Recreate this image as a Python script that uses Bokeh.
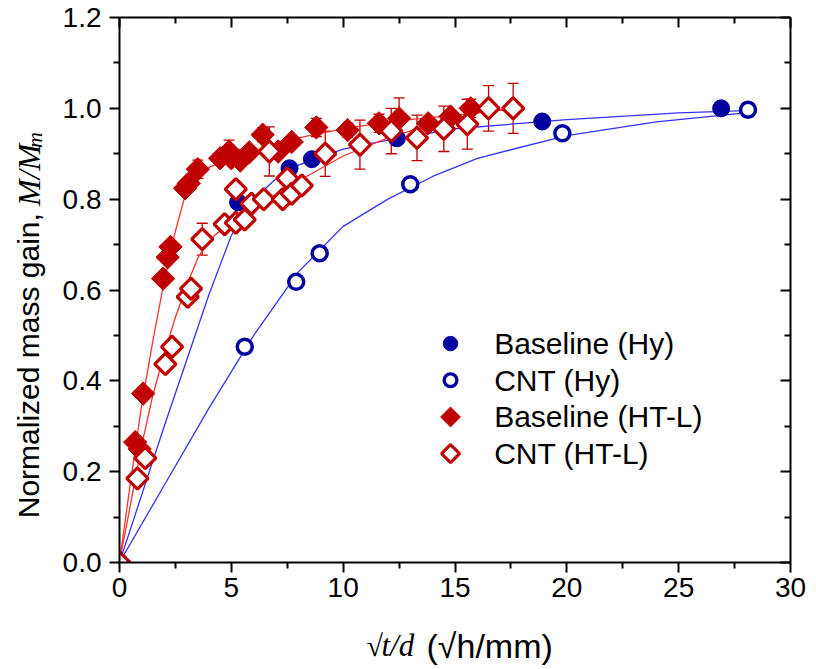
import numpy as np
from bokeh.plotting import figure
from bokeh.layouts import row, column
from bokeh.models import (Range1d, LinearAxis, Whisker, ColumnDataSource,
                          FixedTicker, TeeHead, PrintfTickFormatter, CustomLabelingPolicy)
from bokeh.core.properties import value
from bokeh.embed import file_html
from bokeh.resources import INLINE

# ---------------- data ----------------
base_hy_x = [0.0, 5.3, 7.6, 8.6, 12.4, 18.9, 26.9]
base_hy_y = [0.0, 0.793, 0.868, 0.888, 0.934, 0.971, 1.0]
base_hy_err = [0.0, 0.0, 0.0, 0.0, 0.0, 0.0, 0.008]

cnt_hy_x = [0.0, 5.6, 7.9, 8.95, 13.0, 19.8, 28.1]
cnt_hy_y = [0.0, 0.475, 0.618, 0.681, 0.833, 0.945, 0.997]
cnt_hy_err = [0.0, 0.0, 0.0, 0.0, 0.0, 0.008, 0.015]

base_ht_x = [0.0, 0.7, 0.9, 1.06, 1.95, 2.15, 2.28, 2.93, 3.1, 3.5, 4.5, 4.9, 5.0, 5.4,
             5.8, 6.4, 7.1, 7.7, 8.8, 10.2, 11.6, 12.5, 13.8, 14.8, 15.7]
base_ht_y = [0.0, 0.265, 0.25, 0.372, 0.625, 0.672, 0.695, 0.824, 0.835, 0.866, 0.89, 0.905,
             0.89, 0.885, 0.903, 0.942, 0.905, 0.926, 0.958, 0.952, 0.967, 0.978, 0.967,
             0.982, 1.0]
base_ht_err = [0, 0, 0, 0, 0, 0, 0, 0, 0, 0.02, 0, 0.025, 0, 0, 0, 0.015, 0, 0, 0.02,
               0.015, 0.02, 0.045, 0, 0, 0.02]

cnt_ht_x = [0.0, 0.8, 1.15, 2.05, 2.35, 3.05, 3.2, 3.7, 4.7, 5.2, 5.2, 5.6, 5.9, 6.45,
            6.7, 7.3, 7.5, 7.7, 8.15, 9.2, 10.75, 12.15, 13.3, 14.5, 15.55, 16.5, 17.6]
cnt_ht_y = [0.0, 0.185, 0.23, 0.437, 0.475, 0.585, 0.603, 0.712, 0.745, 0.748, 0.822,
            0.755, 0.79, 0.80, 0.905, 0.80, 0.846, 0.812, 0.83, 0.90, 0.92, 0.95, 0.935,
            0.955, 0.965, 1.0, 1.0]
cnt_ht_err = [0, 0, 0, 0, 0, 0, 0, 0.035, 0, 0, 0, 0, 0, 0, 0.054, 0, 0, 0, 0, 0.05,
              0.054, 0.05, 0.05, 0.05, 0.055, 0.05, 0.055]

# fitted curves
fit_base_hy_x = [0, 2, 4, 5, 6, 7, 8, 10, 12, 15, 20, 25, 28]
fit_base_hy_y = [0, 0.30, 0.59, 0.72, 0.80, 0.845, 0.875, 0.91, 0.93, 0.955, 0.975, 0.99, 0.995]

fit_cnt_hy_x = [0, 2, 4, 6, 8, 10, 12, 14, 16, 20, 24, 28]
fit_cnt_hy_y = [0, 0.17, 0.34, 0.50, 0.64, 0.74, 0.80, 0.85, 0.89, 0.94, 0.97, 0.99]

fit_base_ht_x = [0, 0.5, 1, 1.5, 2, 2.5, 3, 3.5, 4, 5, 6, 8, 10, 12, 14, 16, 17.7]
fit_base_ht_y = [0, 0.18, 0.35, 0.49, 0.62, 0.73, 0.82, 0.855, 0.87, 0.89, 0.905, 0.935,
                 0.955, 0.97, 0.98, 0.99, 1.0]

fit_cnt_ht_x = [0, 0.5, 1, 1.5, 2, 2.5, 3, 3.5, 4, 5, 6, 7, 8, 10, 12, 14, 16, 17.7]
fit_cnt_ht_y = [0, 0.13, 0.26, 0.37, 0.46, 0.54, 0.61, 0.67, 0.71, 0.75, 0.78, 0.81, 0.84,
                0.895, 0.935, 0.965, 0.99, 1.0]

x_ticks = [0, 5, 10, 15, 20, 25, 30]
x_minor = [2.5, 7.5, 12.5, 17.5, 22.5, 27.5]
y_ticks = [0.0, 0.2, 0.4, 0.6, 0.8, 1.0, 1.2]
y_minor = [0.1, 0.3, 0.5, 0.7, 0.9, 1.1]

legend_labels = ["Baseline (Hy)", "CNT (Hy)", "Baseline (HT-L)", "CNT (HT-L)"]

# ---------------- styles ----------------
BLUE_M = "#0000A0"
BLUE_L = "#3333FF"
RED_M = "#C00000"
RED_L = "#FF3030"
SANS = "Liberation Sans"
SERIF = "Liberation Serif"

YLAB_W = 58
MAIN_W, MAIN_H = 750, 610
XLAB_H = 55

p = figure(width=MAIN_W, height=MAIN_H, x_range=Range1d(0, 30), y_range=Range1d(0, 1.2),
           output_backend="svg", toolbar_location=None,
           min_border_left=61, min_border_right=12, min_border_top=17, min_border_bottom=48,
           x_axis_location=None, y_axis_location=None)
p.grid.visible = False
p.outline_line_color = None

no_labels = CustomLabelingPolicy(code="for (const i of [...indices]) indices.unset(i)")

def style_axis(ax, ticks, minor, tick_in, tick_out, labels=True, fmt=None):
    ax.ticker = FixedTicker(ticks=ticks, minor_ticks=minor)
    ax.axis_line_width = 2
    ax.axis_line_color = "black"
    ax.major_tick_line_width = 2
    ax.minor_tick_line_width = 2
    ax.major_tick_in = tick_in[0]
    ax.minor_tick_in = tick_in[1]
    ax.major_tick_out = tick_out[0]
    ax.minor_tick_out = tick_out[1]
    if labels:
        ax.major_label_text_font = SANS
        ax.major_label_text_font_size = "28px"
        ax.major_label_text_color = "black"
    else:
        ax.major_label_policy = no_labels
        ax.major_label_standoff = 0
    if fmt is not None:
        ax.formatter = fmt

xb = LinearAxis()
style_axis(xb, x_ticks, x_minor, (0, 0), (10, 6))
xb.major_label_standoff = 5
p.add_layout(xb, "below")

xt = LinearAxis()
style_axis(xt, x_ticks, x_minor, (10, 6), (0, 0), labels=False)
p.add_layout(xt, "above")

yl = LinearAxis()
style_axis(yl, y_ticks, y_minor, (0, 0), (10, 6), fmt=PrintfTickFormatter(format="%.1f"))
yl.major_label_standoff = 8
p.add_layout(yl, "left")

yr = LinearAxis()
style_axis(yr, y_ticks, y_minor, (10, 6), (0, 0), labels=False)
p.add_layout(yr, "right")

# fitted lines
for fx, fy, c in [(fit_base_hy_x, fit_base_hy_y, BLUE_L), (fit_cnt_hy_x, fit_cnt_hy_y, BLUE_L),
                  (fit_base_ht_x, fit_base_ht_y, RED_L), (fit_cnt_ht_x, fit_cnt_ht_y, RED_L)]:
    p.line(fx, fy, line_color=c, line_width=1.3)

# error bars
def add_err(xs, ys, es, color):
    xx = [x for x, e in zip(xs, es) if e > 0]
    up = [y + e for y, e in zip(ys, es) if e > 0]
    lo = [y - e for y, e in zip(ys, es) if e > 0]
    src = ColumnDataSource(dict(x=xx, upper=up, lower=lo))
    w = Whisker(source=src, base="x", upper="upper", lower="lower", dimension="height",
                line_color=color, line_width=1.3,
                upper_head=TeeHead(size=11, line_color=color, line_width=1.3),
                lower_head=TeeHead(size=11, line_color=color, line_width=1.3))
    w.level = "underlay"
    p.add_layout(w)

add_err(base_ht_x, base_ht_y, base_ht_err, RED_M)
add_err(cnt_ht_x, cnt_ht_y, cnt_ht_err, RED_M)
add_err(base_hy_x, base_hy_y, base_hy_err, BLUE_M)
add_err(cnt_hy_x, cnt_hy_y, cnt_hy_err, BLUE_M)

# marker styles: (marker, angle, size, fill, line, line_width)
styles = [("circle", 0.0, 17, BLUE_M, BLUE_M, 1),
          ("circle", 0.0, 15, "white", BLUE_M, 3.5),
          ("square", np.pi / 4, 16.5, RED_M, RED_M, 1),
          ("square", np.pi / 4, 15, "white", RED_M, 3.2)]
series = [(base_hy_x, base_hy_y), (cnt_hy_x, cnt_hy_y),
          (base_ht_x, base_ht_y), (cnt_ht_x, cnt_ht_y)]
for (sx, sy), (mk, ang, sz, fc, lc, lw) in zip(series, styles):
    p.scatter(sx, sy, marker=mk, angle=ang, size=sz, fill_color=fc, line_color=lc,
              line_width=lw)

# legend (keys + labels), anchored inside the frame
leg_x, leg_tx, leg_y0, leg_dy = 14.8, 16.75, 0.482, 0.0808
leg_scale = 0.85
for i, (lab, (mk, ang, sz, fc, lc, lw)) in enumerate(zip(legend_labels, styles)):
    ly = leg_y0 - i * leg_dy
    p.scatter([leg_x], [ly], marker=mk, angle=ang, size=sz * leg_scale, fill_color=fc,
              line_color=lc, line_width=lw * 0.95)
p.text(x=[leg_tx] * 4, y=[leg_y0 - i * leg_dy for i in range(4)], text=legend_labels,
       text_font=value(SANS), text_font_size="30px", text_baseline="middle",
       text_align="left", text_color="black")

# ---- y-axis title (separate strip, pixel coordinates, y measured from the strip bottom) ----
py = figure(width=YLAB_W, height=MAIN_H, x_range=Range1d(0, YLAB_W), y_range=Range1d(0, MAIN_H),
            output_backend="svg", toolbar_location=None, min_border=0,
            x_axis_location=None, y_axis_location=None)
py.grid.visible = False
py.outline_line_color = None
ybase = 28
y_m = 399          # where "M/M" starts
py.text(x=[ybase], y=[y_m - 8], text=["Normalized mass gain,"], angle=np.pi / 2,
        text_font=value(SANS), text_font_size="30px", text_baseline="alphabetic",
        text_align="right", text_color="black")
py.text(x=[ybase], y=[y_m], text=["M/M"], angle=np.pi / 2,
        text_font=value(SERIF), text_font_style="italic", text_font_size="32px",
        text_baseline="alphabetic", text_align="left", text_color="black")
py.text(x=[ybase + 6], y=[y_m + 65], text=["m"], angle=np.pi / 2,
        text_font=value(SERIF), text_font_style="italic", text_font_size="22px",
        text_baseline="alphabetic", text_align="left", text_color="black")

# ---- x-axis title (separate strip, pixel coordinates) ----
px = figure(width=YLAB_W + MAIN_W, height=XLAB_H, x_range=Range1d(0, YLAB_W + MAIN_W),
            y_range=Range1d(0, XLAB_H), output_backend="svg", toolbar_location=None,
            min_border=0, x_axis_location=None, y_axis_location=None)
px.grid.visible = False
px.outline_line_color = None
xmid = 20
px.text(x=[366], y=[xmid], text=["\u221a"], text_font=value(SERIF), text_font_size="30px",
        text_baseline="middle", text_align="left", text_color="black")
px.text(x=[381], y=[xmid], text=["t/d"], text_font=value(SERIF), text_font_style="italic",
        text_font_size="31px", text_baseline="middle", text_align="left", text_color="black")
px.text(x=[426], y=[xmid], text=["(\u221ah/mm)"], text_font=value(SANS),
        text_font_size="34px", text_baseline="middle", text_align="left", text_color="black")

layout = column(row(py, p, spacing=0), px, spacing=0)

open("out.html", "w").write(file_html(layout, INLINE))
